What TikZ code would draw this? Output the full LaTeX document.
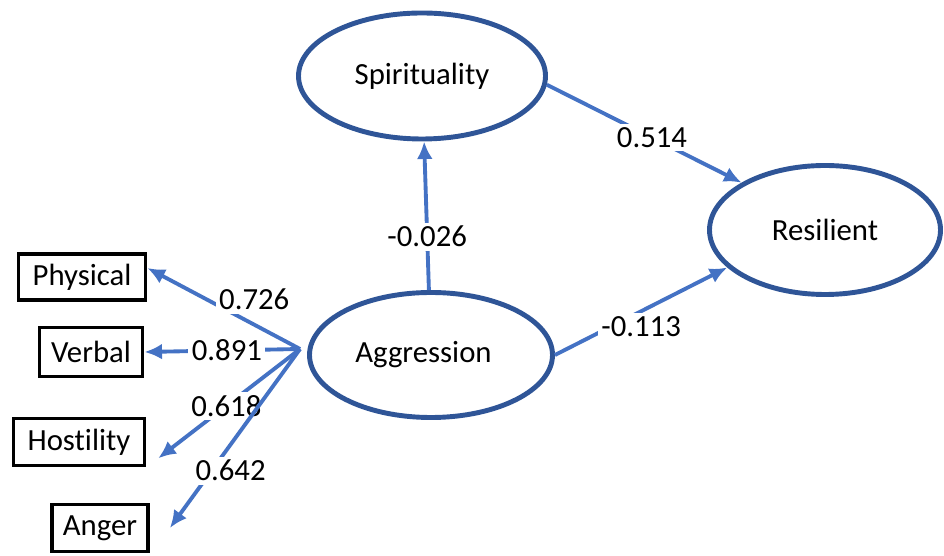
\documentclass[tikz,border=0pt]{standalone}
\usepackage{fontspec}
\setmainfont{Carlito}[Ligatures=NoCommon]
\usetikzlibrary{arrows.meta, shapes.geometric}
\definecolor{darkblue}{HTML}{2F5597}
\definecolor{lineblue}{HTML}{4472C4}
\tikzset{
    >={Latex[length=10pt, width=9pt]},
    latent/.style={ellipse, draw=darkblue, line width=2.8pt, inner sep=0pt},
    indicator/.style={draw=black, line width=2.2pt, inner sep=0pt},
    effect/.style={->, lineblue, line width=2.2pt},
    coef/.style={fill=white, text=black, inner sep=2pt},
}
\begin{document}
\begin{tikzpicture}[font=\fontsize{17.5}{21}\selectfont]
    \useasboundingbox (0,0) rectangle (18.88,11.12);
    % latent variables
    \node[latent, minimum width=4.94cm, minimum height=2.52cm] (spir) at (8.44,9.6) {Spirituality};
    \node[latent, minimum width=4.62cm, minimum height=2.58cm] (res) at (16.5,6.52) {Resilient};
    \node[latent, minimum width=4.86cm, minimum height=2.5cm] (agg) at (8.62,4.02) {\hspace{-0.3cm}Aggression};
    % indicators
    \node[indicator, minimum width=2.54cm, minimum height=0.92cm] (phys) at (1.64,5.58) {Physical};
    \node[indicator, minimum width=2.06cm, minimum height=0.98cm] (verb) at (1.82,4.08) {Verbal};
    \node[indicator, minimum width=2.62cm, minimum height=0.94cm] (host) at (1.58,2.28) {Hostility};
    \node[indicator, minimum width=1.92cm, minimum height=0.94cm] (anger) at (2.0,0.56) {Anger};
    \coordinate (hub) at ([xshift=-0.14cm, yshift=0.12cm]agg.west);
    % structural paths
    \draw[effect] (agg) -- (spir) node[coef, pos=0.36] {-0.026};
    \draw[effect] (spir.-4) -- (res.north west) node[coef, pos=0.54] {0.514};
    \draw[effect] (agg.east) -- (res.201) node[coef, pos=0.5, yshift=-0.3cm] {-0.113};
    % loadings
    \draw[effect] (hub) -- ([yshift=0.18cm]phys.east) node[coef, pos=0.3, yshift=0.5cm] {0.726};
    \draw[effect] (hub) -- (verb.east) node[coef, pos=0.47] {0.891};
    \draw[effect, shorten >=0.3cm] (hub) -- (host.south east) node[coef, pos=0.48] {0.618};
    \draw[effect] (hub) -- ([xshift=0.4cm]anger.east) node[coef, pos=0.68, xshift=0.38cm] {0.642};
\end{tikzpicture}
\end{document}
